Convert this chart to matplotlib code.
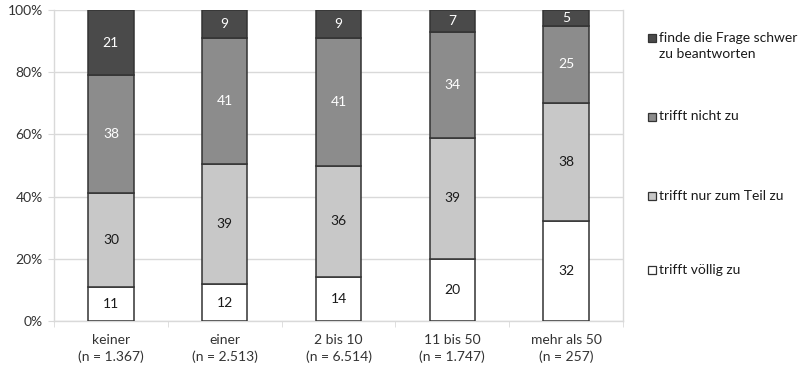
import matplotlib
matplotlib.use("Agg")
import matplotlib.pyplot as plt
import numpy as np
from matplotlib.patches import Rectangle

plt.rcParams['font.family'] = ['Lato', 'DejaVu Sans']

categories = ["keiner\n(n = 1.367)", "einer\n(n = 2.513)", "2 bis 10\n(n = 6.514)",
              "11 bis 50\n(n = 1.747)", "mehr als 50\n(n = 257)"]
series_names = ["trifft völlig zu", "trifft nur zum Teil zu", "trifft nicht zu",
                "finde die Frage schwer\nzu beantworten"]
voellig = [11, 12, 14, 20, 32]
teil = [30, 39, 36, 39, 38]
nicht = [38, 41, 41, 34, 25]
schwer = [21, 9, 9, 7, 5]
yticks = [0, 20, 40, 60, 80, 100]
ytick_labels = ["0%", "20%", "40%", "60%", "80%", "100%"]

colors = ["#ffffff", "#c8c8c8", "#8c8c8c", "#4a4a4a"]
text_colors = ["#1a1a1a", "#1a1a1a", "#ffffff", "#ffffff"]
edge = "#333333"

data = np.array([voellig, teil, nicht, schwer], dtype=float)
pct = data / data.sum(axis=0) * 100

fig = plt.figure(figsize=(8, 3.68), dpi=100)
ax = fig.add_axes([54/800, 1 - 321/368, (623-54)/800, (321-10)/368])

FS = 10
x = np.arange(len(categories))
bottom = np.zeros(len(categories))
for i in range(4):
    bars = ax.bar(x, pct[i], bottom=bottom, width=0.4, color=colors[i],
                  edgecolor=edge, linewidth=1.1, zorder=3)
    for j, b in enumerate(bars):
        ax.text(x[j], bottom[j] + pct[i][j] / 2, f"{int(data[i][j])}",
                ha="center", va="center", fontsize=FS, color=text_colors[i], zorder=4)
    bottom += pct[i]

ax.set_xlim(-0.5, len(categories) - 0.5)
ax.set_ylim(0, 100)
ax.set_yticks(yticks)
ax.set_yticklabels(ytick_labels, fontsize=FS, color="#333333")
ax.set_xticks(x)
ax.set_xticklabels(categories, fontsize=FS, color="#333333", linespacing=1.45)
ax.tick_params(axis="x", length=0, pad=9)
ax.tick_params(axis="y", length=4, color="#d9d9d9", pad=4)
ax.set_xticks(np.arange(-0.5, len(categories)), minor=True)
ax.tick_params(axis="x", which="minor", length=4, color="#d9d9d9")

ax.grid(axis="y", color="#d9d9d9", linewidth=1, zorder=0)
for s in ["left", "bottom", "right"]:
    ax.spines[s].set_color("#d9d9d9")
    ax.spines[s].set_linewidth(1)
ax.spines["top"].set_visible(False)

# legend (manual, spread vertically)
leg_y = [270, 196, 117, 38]
for i in range(4):
    yy = 1 - leg_y[i] / 368
    fig.patches.append(Rectangle((648/800, yy - 4/368), 8/800, 8/368,
                                 transform=fig.transFigure, facecolor=colors[i],
                                 edgecolor=edge, linewidth=0.9))
    fig.text(659/800, yy + 6.5/368, series_names[i], fontsize=FS, color="#1a1a1a",
             ha="left", va="top", linespacing=1.4)

fig.savefig("out.png", dpi=100)
